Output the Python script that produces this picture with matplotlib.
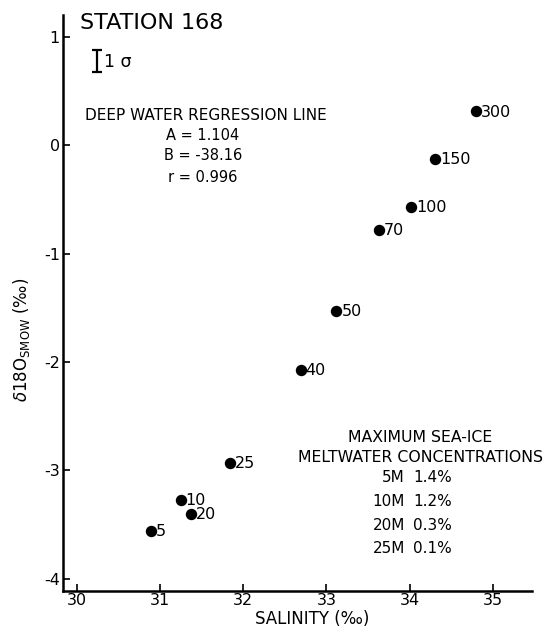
import matplotlib
matplotlib.use("Agg")
import matplotlib.pyplot as plt

# depth (m) labels and measured values
depths = ["300", "150", "100", "70", "50", "40", "25", "10", "20", "5"]
salinity = [34.80, 34.31, 34.02, 33.63, 33.12, 32.69, 31.84, 31.25, 31.37, 30.89]
d18o = [0.31, -0.13, -0.57, -0.78, -1.53, -2.07, -2.93, -3.27, -3.40, -3.56]

xticks = [30, 31, 32, 33, 34, 35]
yticks = [1, 0, -1, -2, -3, -4]

regression = ["A = 1.104", "B = -38.16", "r = 0.996"]
melt_depth = ["5M", "10M", "20M", "25M"]
melt_conc = ["1.4%", "1.2%", "0.3%", "0.1%"]

W, H = 546, 627
plt.rcParams['font.family'] = ['DejaVu Sans']
plt.rcParams['axes.unicode_minus'] = False
fig = plt.figure(figsize=(W / 100, H / 100), dpi=100)
ax = fig.add_axes([62.7 / W, 1 - 590.7 / H, (532 - 62.7) / W, (590.7 - 15) / H])

def ftext(x, y, s, **kw):
    # place text by pixel position (y from the top)
    fig.text(x / W, 1 - y / H, s, **kw)

ax.plot(salinity, d18o, 'o', color='black', markersize=7.2)
for s, d, lab in zip(salinity, d18o, depths):
    ax.annotate(lab, (s, d), xytext=(3.5, -0.5), textcoords='offset points',
                ha='left', va='center', fontsize=11.5)

# 1 sigma error bar
ax.errorbar([30.24], [0.775], yerr=[0.105], fmt='none', ecolor='black',
            elinewidth=1.6, capsize=3.5, capthick=1.6)
ftext(104, 62, "1 σ", fontsize=12.5, va='center', ha='left')

ax.set_xlim(29.83, 35.47)
ax.set_ylim(-4.11, 1.2)
ax.set_xticks(xticks)
ax.set_yticks(yticks)
ax.tick_params(direction='in', length=5, width=1.2, labelsize=11.5, pad=2)
for side in ['top', 'right']:
    ax.spines[side].set_visible(False)
for side in ['left', 'bottom']:
    ax.spines[side].set_linewidth(1.8)

ftext(80, 23, "STATION 168", fontsize=16, va='center', ha='left')
ftext(85, 115, "DEEP WATER REGRESSION LINE", fontsize=11, va='center', ha='left')
for i, t in enumerate(regression):
    ftext(203, 135 + i * 21, t, fontsize=10.5, va='center', ha='center')

ftext(420, 437, "MAXIMUM SEA-ICE", fontsize=11.3, va='center', ha='center')
ftext(420, 458, "MELTWATER CONCENTRATIONS", fontsize=11.3, va='center', ha='center')
for i, (dm, c) in enumerate(zip(melt_depth, melt_conc)):
    ftext(405, 478 + i * 23.5, dm, fontsize=11, va='center', ha='right')
    ftext(413, 478 + i * 23.5, c, fontsize=11, va='center', ha='left')

ftext(312, 619, "SALINITY (‰)", fontsize=12, va='center', ha='center')
ftext(22, 340, r"$\delta$18O$_{\mathrm{SMOW}}$ (‰)", fontsize=12, va='center',
      ha='center', rotation=90)

fig.savefig("out.png", dpi=100)
